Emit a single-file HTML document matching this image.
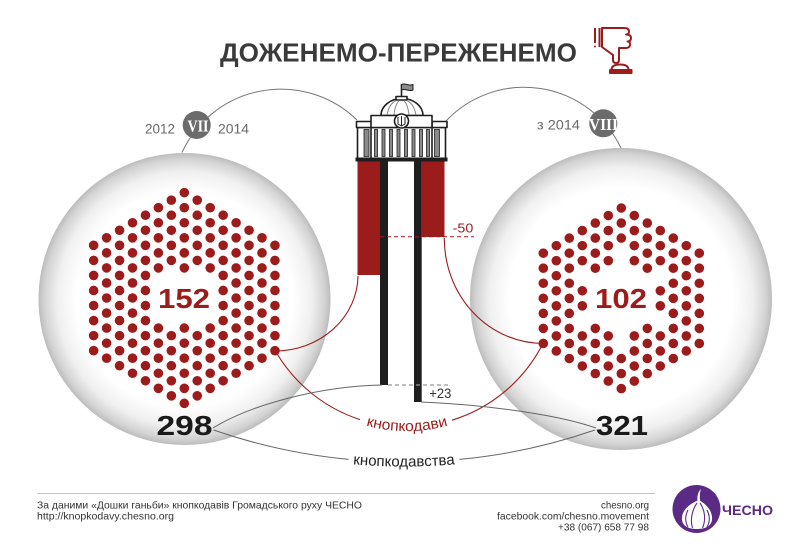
<!DOCTYPE html>
<html><head><meta charset="utf-8"><style>
html,body{margin:0;padding:0;background:#fff;}
svg{display:block;}
text{font-family:"Liberation Sans",sans-serif;}
</style></head><body>
<svg width="800" height="550" viewBox="0 0 800 550" xmlns="http://www.w3.org/2000/svg">
<defs>
<radialGradient id="g">
<stop offset="0" stop-color="#ffffff"/>
<stop offset="0.74" stop-color="#ffffff"/>
<stop offset="0.87" stop-color="#f0f0f0"/>
<stop offset="0.96" stop-color="#d3d3d3"/>
<stop offset="1" stop-color="#bcbcbc"/>
</radialGradient>
<path id="arcR" d="M260.4,328.4 A156 156 0 0 0 553.6,328.4"/>
<path id="arcG" d="M252.7,446.6 A584.5 584.5 0 0 0 555.3,446.6"/>
</defs>
<rect width="800" height="550" fill="#fff"/>

<!-- circles -->
<circle cx="184.5" cy="299" r="146" fill="url(#g)"/>
<circle cx="621" cy="299" r="151" fill="url(#g)"/>

<!-- title -->
<text x="220" y="61.5" font-size="26" font-weight="bold" fill="#3a3a3a" textLength="357" lengthAdjust="spacingAndGlyphs">ДОЖЕНЕМО-ПЕРЕЖЕНЕМО</text>
<!-- thumbs down icon -->
<g fill="none" stroke="#9c1c1c" stroke-width="2" stroke-linejoin="round">
<line x1="595" y1="28" x2="595" y2="43"/>
<line x1="599.5" y1="28" x2="599.5" y2="47"/>
<path d="M602,28 L624,28 Q629,28 629,31.5 Q629,34.5 626,34.5 Q631,34.5 631,38 Q631,41.5 627.5,41.5 Q630.5,41.5 630,45 Q629.5,48 625.5,48 L619,48 L619,60 Q619,63 616,63 Q613,63 613,60 L613,55 L602,47 Z"/>
<path d="M611.5,70 Q611.5,64.5 620,64.5 Q628.5,64.5 628.5,70 Z"/>
<rect x="610" y="70" width="21.5" height="3" fill="#9c1c1c"/>
</g>
<circle cx="595" cy="46.5" r="1" fill="#9c1c1c"/>

<!-- gray arcs to badges -->
<path d="M182,152.5 A109 109 0 0 1 357,120" fill="none" stroke="#777" stroke-width="1"/>
<path d="M446,121 A107.5 107.5 0 0 1 621,148" fill="none" stroke="#777" stroke-width="1"/>

<!-- badges -->
<circle cx="196.7" cy="125" r="14" fill="#6b6b6b"/>
<text x="187.5" y="131.5" font-size="17" font-weight="bold" fill="#fff" textLength="21" lengthAdjust="spacingAndGlyphs" style="font-family:'Liberation Serif',serif">VII</text>
<circle cx="603.3" cy="123.3" r="14" fill="#6b6b6b"/>
<text x="589" y="129.8" font-size="17" font-weight="bold" fill="#fff" textLength="29" lengthAdjust="spacingAndGlyphs" style="font-family:'Liberation Serif',serif">VIII</text>
<text x="145" y="133.3" font-size="14" fill="#6a6a6a" textLength="30" lengthAdjust="spacingAndGlyphs">2012</text>
<text x="218" y="133.3" font-size="14" fill="#6a6a6a" textLength="31" lengthAdjust="spacingAndGlyphs">2014</text>
<text x="537" y="129.5" font-size="13.5" fill="#6a6a6a" textLength="43" lengthAdjust="spacingAndGlyphs">з 2014</text>

<!-- bars -->
<rect x="357.5" y="160" width="22.5" height="115" fill="#9c1c1c"/>
<rect x="421.7" y="160" width="22.8" height="77" fill="#9c1c1c"/>
<rect x="380" y="160" width="8" height="225" fill="#1e1e1e"/>
<rect x="414" y="160" width="7.7" height="242" fill="#1e1e1e"/>
<line x1="380" y1="236.7" x2="474" y2="236.7" stroke="#9c1c1c" stroke-width="1" stroke-dasharray="4 3"/>
<text x="452.7" y="232.7" font-size="13" fill="#9c1c1c" textLength="20.6" lengthAdjust="spacingAndGlyphs">-50</text>
<line x1="388" y1="385" x2="451" y2="385" stroke="#999" stroke-width="1.2" stroke-dasharray="4 3"/>
<text x="429.3" y="398" font-size="14" fill="#333" textLength="22" lengthAdjust="spacingAndGlyphs">+23</text>

<!-- building -->
<g stroke="#1e1e1e" stroke-width="1.6" fill="#fff" stroke-linejoin="round">
<line x1="401.5" y1="84" x2="401.5" y2="97"/>
<path d="M401.5,84.5 C405,82.5 409,86.5 413,84.5 L413,90 C409,92 405,88 401.5,90 Z" fill="#8a8a8a" stroke-width="1"/>
<path d="M381,115.5 A21 17 0 0 1 423,115.5 Z"/>
<rect x="396" y="96.5" width="11" height="3.5"/>
<path d="M387,115 Q389,104 396,100.5 M394,115 Q395,105 399,100.5 M416,115 Q414,104 407,100.5 M409,115 Q408,105 404,100.5" fill="none" stroke="#888" stroke-width="1"/>
<rect x="357.5" y="127.5" width="88" height="31"/>
<rect x="356.5" y="121.5" width="15" height="6"/>
<rect x="432" y="121.5" width="15" height="6"/>
<rect x="371" y="115.5" width="61" height="12"/>
<circle cx="401.5" cy="121" r="7"/>
<path d="M398,117 L398,124 L401.5,126 L405,124 L405,117 M401.5,116 L401.5,126" fill="none" stroke-width="1"/>
<line x1="371" y1="127.5" x2="371" y2="158"/>
<line x1="432" y1="127.5" x2="432" y2="158"/>
</g>
<g fill="#8a8a8a" stroke="#1e1e1e" stroke-width="0.8">
<rect x="364" y="129.5" width="5" height="27"/>
<rect x="434.5" y="129.5" width="5" height="27"/>
<rect x="374.5" y="129.5" width="3" height="27"/>
<rect x="382" y="129.5" width="3" height="27"/>
<rect x="389.5" y="129.5" width="3" height="27"/>
<rect x="397" y="129.5" width="3" height="27"/>
<rect x="404.5" y="129.5" width="3" height="27"/>
<rect x="412" y="129.5" width="3" height="27"/>
<rect x="419.5" y="129.5" width="3" height="27"/>
<rect x="426.5" y="129.5" width="3" height="27"/>
</g>
<rect x="355.5" y="157.5" width="92" height="4" fill="#1e1e1e"/>

<!-- red connection lines -->
<g fill="none" stroke="#9c1c1c" stroke-width="1.1">
<path d="M275,351 A83 76 0 0 0 358,276"/>
<path d="M444.3,238 A99 105 0 0 0 543.3,343.4"/>
<path d="M276,352 A152 152 0 0 0 360,419.6"/>
<path d="M452,420.2 A152 152 0 0 0 543,343.4"/>
</g>
<text font-size="15" fill="#9c1c1c" text-anchor="middle"><textPath href="#arcR" startOffset="50%" textLength="83" lengthAdjust="spacingAndGlyphs">кнопкодави</textPath></text>

<!-- gray connection lines -->
<g fill="none" stroke="#666" stroke-width="1">
<path d="M213,428 C250,405 320,386 382,385"/>
<path d="M421,402 C470,404 550,412 596,428"/>
<path d="M213.5,430 A580 580 0 0 0 348.6,459.4"/>
<path d="M459.4,459.4 A580 580 0 0 0 594.9,430"/>
</g>
<text font-size="15" fill="#222" text-anchor="middle"><textPath href="#arcG" startOffset="50%" textLength="102" lengthAdjust="spacingAndGlyphs">кнопкодавства</textPath></text>

<!-- left dots -->
<g stroke="#9c1c1c" stroke-width="9.6" stroke-linecap="round" stroke-dasharray="0 15.05" fill="none">
<line x1="93.65" y1="245.33" x2="93.65" y2="351.18"/>
<line x1="106.6" y1="237.8" x2="106.6" y2="358.7"/>
<line x1="119.55" y1="230.28" x2="119.55" y2="366.23"/>
<line x1="132.5" y1="222.75" x2="132.5" y2="373.75"/>
<line x1="145.45" y1="215.23" x2="145.45" y2="381.28"/>
<line x1="158.4" y1="207.7" x2="158.4" y2="268.4"/>
<line x1="158.4" y1="328.1" x2="158.4" y2="388.8"/>
<line x1="171.35" y1="200.18" x2="171.35" y2="260.88"/>
<line x1="171.35" y1="335.63" x2="171.35" y2="396.33"/>
<line x1="184.3" y1="192.65" x2="184.3" y2="268.4"/>
<line x1="184.3" y1="328.1" x2="184.3" y2="403.85"/>
<line x1="197.25" y1="200.18" x2="197.25" y2="260.88"/>
<line x1="197.25" y1="335.63" x2="197.25" y2="396.33"/>
<line x1="210.2" y1="207.7" x2="210.2" y2="268.4"/>
<line x1="210.2" y1="328.1" x2="210.2" y2="388.8"/>
<line x1="223.15" y1="215.23" x2="223.15" y2="381.28"/>
<line x1="236.1" y1="222.75" x2="236.1" y2="373.75"/>
<line x1="249.05" y1="230.28" x2="249.05" y2="366.23"/>
<line x1="262" y1="237.8" x2="262" y2="358.7"/>
<line x1="274.95" y1="245.33" x2="274.95" y2="351.18"/>
</g>

<!-- right dots -->
<g stroke="#9c1c1c" stroke-width="9.6" stroke-linecap="round" stroke-dasharray="0 15.05" fill="none">
<line x1="543.3" y1="253.15" x2="543.3" y2="343.95"/>
<line x1="556.3" y1="245.63" x2="556.3" y2="351.48"/>
<line x1="569.3" y1="238.1" x2="569.3" y2="359"/>
<line x1="582.3" y1="230.58" x2="582.3" y2="261.18"/>
<line x1="582.3" y1="290.78" x2="582.3" y2="306.33"/>
<line x1="582.3" y1="335.93" x2="582.3" y2="366.53"/>
<line x1="595.3" y1="223.05" x2="595.3" y2="268.7"/>
<line x1="595.3" y1="328.4" x2="595.3" y2="374.05"/>
<line x1="608.3" y1="215.53" x2="608.3" y2="261.18"/>
<line x1="608.3" y1="335.93" x2="608.3" y2="381.58"/>
<line x1="621.3" y1="208" x2="621.3" y2="238.6"/>
<line x1="621.3" y1="358.5" x2="621.3" y2="389.1"/>
<line x1="634.3" y1="215.53" x2="634.3" y2="261.18"/>
<line x1="634.3" y1="335.93" x2="634.3" y2="381.58"/>
<line x1="647.3" y1="223.05" x2="647.3" y2="268.7"/>
<line x1="647.3" y1="328.4" x2="647.3" y2="374.05"/>
<line x1="660.3" y1="230.58" x2="660.3" y2="261.18"/>
<line x1="660.3" y1="290.78" x2="660.3" y2="306.33"/>
<line x1="660.3" y1="335.93" x2="660.3" y2="366.53"/>
<line x1="673.3" y1="238.1" x2="673.3" y2="359"/>
<line x1="686.3" y1="245.63" x2="686.3" y2="351.48"/>
<line x1="699.3" y1="253.15" x2="699.3" y2="343.95"/>
</g>

<!-- numbers -->
<text x="158" y="308" font-size="28" font-weight="bold" fill="#9c1c1c" textLength="52" lengthAdjust="spacingAndGlyphs">152</text>
<text x="595" y="308" font-size="28" font-weight="bold" fill="#9c1c1c" textLength="52" lengthAdjust="spacingAndGlyphs">102</text>
<text x="156.5" y="435" font-size="27.5" font-weight="bold" fill="#1a1a1a" textLength="56" lengthAdjust="spacingAndGlyphs">298</text>
<text x="596" y="435" font-size="27.5" font-weight="bold" fill="#1a1a1a" textLength="52" lengthAdjust="spacingAndGlyphs">321</text>

<!-- footer -->
<line x1="37" y1="493.5" x2="655" y2="493.5" stroke="#c4c4c4" stroke-width="1"/>
<text x="37" y="508.5" font-size="10.5" fill="#333" textLength="325" lengthAdjust="spacingAndGlyphs">За даними «Дошки ганьби» кнопкодавів Громадського руху ЧЕСНО</text>
<text x="37" y="519.5" font-size="10.5" fill="#333" textLength="137" lengthAdjust="spacingAndGlyphs">http://knopkodavy.chesno.org</text>
<text x="601" y="508.5" font-size="10.5" fill="#333" textLength="48" lengthAdjust="spacingAndGlyphs">chesno.org</text>
<text x="497" y="519.5" font-size="10.5" fill="#333" textLength="152" lengthAdjust="spacingAndGlyphs">facebook.com/chesno.movement</text>
<text x="558" y="530.5" font-size="10.5" fill="#333" textLength="91" lengthAdjust="spacingAndGlyphs">+38 (067) 658 77 98</text>

<!-- logo -->
<circle cx="696.5" cy="509" r="24" fill="#5a2a85"/>
<path d="M701,489 C698,492 697,496 697.5,500.5 C690,504 681,510 682,520 C683,527 690,529 697,529 C704,529 711,527 712,520 C713,510 705,504 700,500.5 C699.5,496 700,492 701,489 Z" fill="#fff"/>
<path d="M697,503 C692,510 690,520 692.5,528 M700,503 C705,510 706,520 702.5,528 M688,510 C685,516 685,522 688,527 M707,510 C710,516 710,522 707,527" fill="none" stroke="#5a2a85" stroke-width="1.1"/>
<text x="722" y="515" font-size="14" font-weight="bold" fill="#5a2a85" textLength="51" lengthAdjust="spacingAndGlyphs">ЧЕСНО</text>
</svg>
</body></html>
